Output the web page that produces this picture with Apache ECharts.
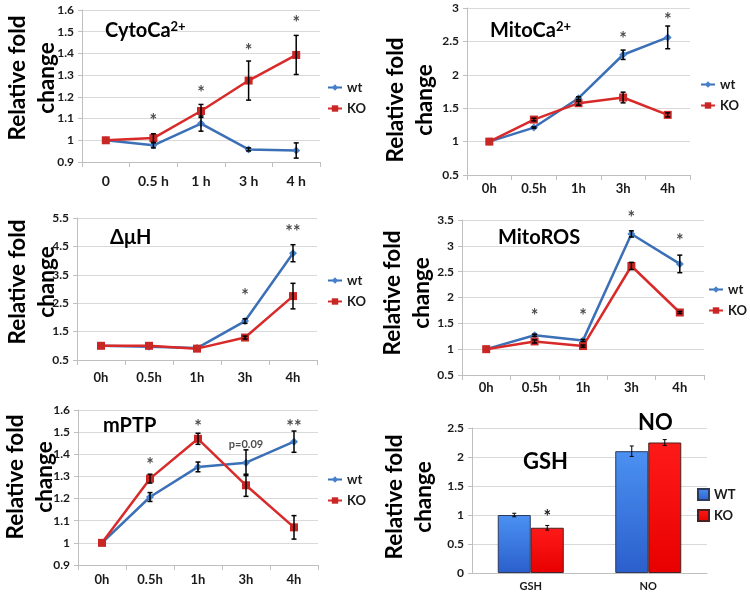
<!DOCTYPE html>
<html>
<head>
<meta charset="utf-8">
<script src="https://cdn.jsdelivr.net/npm/echarts@6/dist/echarts.min.js"></script>
<style>
html, body { margin: 0; padding: 0; background: #fff; }
#wrap { position: relative; width: 750px; height: 593px; overflow: hidden; }
.p { position: absolute; left: 0; top: 0; width: 750px; height: 593px; }
</style>
</head>
<body>
<div id="wrap">
  <div class="p" id="c1"></div>
  <div class="p" id="c2"></div>
  <div class="p" id="c3"></div>
  <div class="p" id="c4"></div>
  <div class="p" id="c5"></div>
  <div class="p" id="c6"></div>
</div>
<script>
// time points
var hoursFirst = ['0', '0.5 h', '1 h', '3 h', '4 h'];
var hours = ['0h', '0.5h', '1h', '3h', '4h'];

// CytoCa2+
var cytoWt = [1.0, 0.977, 1.077, 0.958, 0.953];
var cytoWtErr = [0, 0.012, 0.035, 0.007, 0.035];
var cytoKo = [1.0, 1.01, 1.135, 1.275, 1.393];
var cytoKoErr = [0, 0.02, 0.03, 0.09, 0.09];
var cytoNoteIdx = [1, 2, 3, 4];
var cytoNoteY = [1.107, 1.236, 1.43, 1.558];
var cytoNoteText = ['*', '*', '*', '*'];

// MitoCa2+
var mitoCaWt = [1.0, 1.21, 1.65, 2.3, 2.56];
var mitoCaWtErr = [0, 0.01, 0.02, 0.07, 0.17];
var mitoCaKo = [1.0, 1.33, 1.575, 1.66, 1.4];
var mitoCaKoErr = [0, 0.02, 0.03, 0.08, 0.03];
var mitoCaNoteIdx = [3, 4];
var mitoCaNoteY = [2.6, 2.88];
var mitoCaNoteText = ['*', '*'];

// delta mu H
var dmhWt = [1.0, 0.97, 0.92, 1.87, 4.26];
var dmhWtErr = [0, 0, 0, 0.08, 0.3];
var dmhKo = [1.0, 1.0, 0.9, 1.29, 2.75];
var dmhKoErr = [0, 0, 0, 0.05, 0.45];
var dmhNoteIdx = [3, 4];
var dmhNoteY = [2.9, 5.15];
var dmhNoteText = ['*', '**'];

// MitoROS
var rosWt = [1.0, 1.27, 1.17, 3.23, 2.65];
var rosWtErr = [0, 0.02, 0.02, 0.06, 0.17];
var rosKo = [1.0, 1.15, 1.06, 2.61, 1.71];
var rosKoErr = [0, 0.03, 0.02, 0.07, 0.02];
var rosNoteIdx = [1, 2, 3, 4];
var rosNoteY = [1.72, 1.72, 3.62, 3.17];
var rosNoteText = ['*', '*', '*', '*'];

// mPTP
var ptpWt = [1.0, 1.207, 1.343, 1.362, 1.457];
var ptpWtErr = [0, 0.02, 0.022, 0.058, 0.048];
var ptpKo = [1.0, 1.29, 1.47, 1.26, 1.07];
var ptpKoErr = [0, 0.02, 0.025, 0.05, 0.053];
var ptpNoteIdx = [1, 2, 3, 4];
var ptpNoteY = [1.369, 1.541, 1.45, 1.541];
var ptpNoteText = ['*', '*', 'p=0.09', '**'];

// GSH / NO bars
var barCats = ['GSH', 'NO'];
var barWt = [1.0, 2.1];
var barWtErr = [0.03, 0.09];
var barKo = [0.78, 2.25];
var barKoErr = [0.04, 0.05];
var barKoStar = ['*', ''];

var FONT = 'Lato, "Open Sans", sans-serif';
var BLUE = '#3b6fb6';
var RED = '#d92a2a';
var TXT = '#1a1a1a';
var Y_NAME = 'Relative fold\nchange';

function errBars(offset, cap, lw) {
    return function (params, api) {
        var e = api.value(2);
        if (!e) return null;
        var hi = api.coord([api.value(0), api.value(1) + e]);
        var lo = api.coord([api.value(0), api.value(1) - e]);
        var x = hi[0] + offset;
        var st = { stroke: '#000', lineWidth: lw };
        return {
            type: 'group',
            children: [
                { type: 'line', shape: { x1: x, y1: hi[1], x2: x, y2: lo[1] }, style: st },
                { type: 'line', shape: { x1: x - cap, y1: hi[1], x2: x + cap, y2: hi[1] }, style: st },
                { type: 'line', shape: { x1: x - cap, y1: lo[1], x2: x + cap, y2: lo[1] }, style: st }
            ]
        };
    };
}

function triples(vals, errs) {
    return vals.map(function (v, i) { return [i, v, errs[i]]; });
}

// rotated y-axis title, centred on (x, y)
function yTitle(x, y) {
    return {
        type: 'text', x: x, y: y, rotation: Math.PI / 2,
        style: {
            text: Y_NAME, align: 'center', verticalAlign: 'middle', lineHeight: 29,
            fontFamily: FONT, fontWeight: 'bold', fontSize: 22.5, fill: '#000'
        }
    };
}

function yAxisOpt(min, max, step) {
    return {
        type: 'value', min: min, max: max, interval: step,
        axisLine: { show: true, lineStyle: { color: '#bfbfbf' } },
        axisTick: { show: true, length: 4, lineStyle: { color: '#bfbfbf' } },
        axisLabel: { fontFamily: FONT, fontWeight: 'bold', fontSize: 12, color: TXT, margin: 8 },
        splitLine: { lineStyle: { color: '#d9d9d9' } }
    };
}

function linePanel(id, p) {
    var chart = echarts.init(document.getElementById(id));
    chart.setOption({
        animation: false,
        title: {
            text: p.title, left: p.titlePos[0], top: p.titlePos[1], padding: 0, textAlign: 'left',
            textStyle: {
                fontFamily: FONT, fontWeight: 'bold', fontSize: 20, color: '#000',
                rich: {
                    a: { fontFamily: FONT, fontWeight: 'bold', fontSize: 20, color: '#000' },
                    s: { fontFamily: FONT, fontWeight: 'bold', fontSize: 13, color: '#000', padding: [0, 0, 9, 0] }
                }
            }
        },
        graphic: [yTitle(p.namePos[0], p.namePos[1])],
        grid: { left: p.grid[0], top: p.grid[1], width: p.grid[2], height: p.grid[3], outerBoundsMode: 'none' },
        legend: {
            data: ['wt', 'KO'], orient: 'vertical', left: p.legendPos[0], top: p.legendPos[1],
            itemWidth: 14, itemHeight: 8, itemGap: 8,
            textStyle: { fontFamily: FONT, fontWeight: 'bold', fontSize: 13, color: TXT }
        },
        xAxis: {
            type: 'category', data: p.cats, boundaryGap: true,
            axisLine: { lineStyle: { color: '#bfbfbf' } },
            axisTick: { show: true, length: 5, lineStyle: { color: '#bfbfbf' } },
            axisLabel: { fontFamily: FONT, fontWeight: 'bold', fontSize: p.xFont || 13, color: TXT, margin: p.xMargin }
        },
        yAxis: yAxisOpt(p.yMin, p.yMax, p.yStep),
        series: [
            {
                name: 'wt', type: 'line', data: p.wt, symbol: 'diamond', symbolSize: 8,
                lineStyle: { width: 2.5, color: BLUE }, itemStyle: { color: '#4682cc' }, z: 3
            },
            {
                name: 'KO', type: 'line', data: p.ko, symbol: 'rect', symbolSize: 8,
                lineStyle: { width: 2.5, color: RED }, itemStyle: { color: '#c92626' }, z: 4
            },
            {
                type: 'custom', renderItem: errBars(0, 2.5, 1.5), data: triples(p.wt, p.wtErr), z: 5,
                encode: { x: 0, y: 1 }
            },
            {
                type: 'custom', renderItem: errBars(0, 2.5, 1.5), data: triples(p.ko, p.koErr), z: 5,
                encode: { x: 0, y: 1 }
            },
            {
                type: 'scatter', symbolSize: 0, clip: false, z: 6,
                data: p.noteIdx.map(function (ix, k) { return [ix, p.noteY[k], p.noteText[k]]; }),
                label: {
                    show: true, position: 'inside', offset: [0, 4],
                    formatter: function (d) {
                        var t = d.value[2];
                        return t.length > 2 ? '{s|' + t + '}' : t;
                    },
                    fontFamily: FONT, fontWeight: 'bold', fontSize: 18, color: TXT,
                    rich: { s: { fontFamily: FONT, fontWeight: 'bold', fontSize: 11, color: TXT, padding: [0, 0, 6, 0] } }
                }
            }
        ]
    });
    return chart;
}

linePanel('c1', {
    cats: hoursFirst, xFont: 14, xMargin: 12,
    wt: cytoWt, wtErr: cytoWtErr, ko: cytoKo, koErr: cytoKoErr,
    noteIdx: cytoNoteIdx, noteY: cytoNoteY, noteText: cytoNoteText,
    yMin: 0.9, yMax: 1.6, yStep: 0.1, namePos: [32, 78],
    grid: [82, 10, 238, 152], legendPos: [322, 76],
    title: '{a|CytoCa}{s|2+}', titlePos: [105, 20]
});
linePanel('c2', {
    cats: hours, xMargin: 7,
    wt: mitoCaWt, wtErr: mitoCaWtErr, ko: mitoCaKo, koErr: mitoCaKoErr,
    noteIdx: mitoCaNoteIdx, noteY: mitoCaNoteY, noteText: mitoCaNoteText,
    yMin: 0.5, yMax: 3, yStep: 0.5, namePos: [410, 100],
    grid: [467, 8, 223, 167], legendPos: [695, 73],
    title: '{a|MitoCa}{s|2+}', titlePos: [490, 20]
});
linePanel('c3', {
    cats: hours, xMargin: 11,
    wt: dmhWt, wtErr: dmhWtErr, ko: dmhKo, koErr: dmhKoErr,
    noteIdx: dmhNoteIdx, noteY: dmhNoteY, noteText: dmhNoteText,
    yMin: 0.5, yMax: 5.5, yStep: 1, namePos: [32, 282],
    grid: [77, 218, 240, 142], legendPos: [322, 269],
    title: '{a|ΔμH}', titlePos: [110, 228]
});
linePanel('c4', {
    cats: hours, xMargin: 6,
    wt: rosWt, wtErr: rosWtErr, ko: rosKo, koErr: rosKoErr,
    noteIdx: rosNoteIdx, noteY: rosNoteY, noteText: rosNoteText,
    yMin: 0.5, yMax: 3.5, yStep: 0.5, namePos: [407, 293],
    grid: [462, 220, 242, 155], legendPos: [703, 278],
    title: '{a|MitoROS}', titlePos: [498, 228]
});
linePanel('c5', {
    cats: hours, xMargin: 8,
    wt: ptpWt, wtErr: ptpWtErr, ko: ptpKo, koErr: ptpKoErr,
    noteIdx: ptpNoteIdx, noteY: ptpNoteY, noteText: ptpNoteText,
    yMin: 0.9, yMax: 1.6, yStep: 0.1, namePos: [30, 477],
    grid: [78, 410, 240, 155], legendPos: [322, 468],
    title: '{a|mPTP}', titlePos: [103, 416]
});

// bar panel
var BAR_W = 33;
var bars = echarts.init(document.getElementById('c6'));
bars.setOption({
    animation: false,
    title: [
        { text: 'GSH', left: 523, top: 451, padding: 0, textAlign: 'left', textStyle: { fontFamily: FONT, fontWeight: 'bold', fontSize: 22, color: '#000' } },
        { text: 'NO', left: 638, top: 412, padding: 0, textAlign: 'left', textStyle: { fontFamily: FONT, fontWeight: 'bold', fontSize: 22, color: '#000' } }
    ],
    graphic: [yTitle(409, 497)],
    grid: { left: 472, top: 428, width: 235, height: 145, outerBoundsMode: 'none' },
    legend: {
        data: ['WT', 'KO'], orient: 'vertical', left: 692, top: 483, icon: 'rect',
        itemWidth: 11, itemHeight: 11, itemGap: 8,
        textStyle: { fontFamily: FONT, fontWeight: 'bold', fontSize: 13, color: TXT }
    },
    xAxis: {
        type: 'category', data: barCats,
        axisLine: { lineStyle: { color: '#bfbfbf' } },
        axisTick: { show: false },
        axisLabel: { fontFamily: FONT, fontWeight: 'bold', fontSize: 11, color: TXT, margin: 8 }
    },
    yAxis: yAxisOpt(0, 2.5, 0.5),
    series: [
        {
            name: 'WT', type: 'bar', data: barWt, barWidth: BAR_W, barGap: '0%',
            itemStyle: {
                borderColor: '#2e3a5c', borderWidth: 1,
                color: new echarts.graphic.LinearGradient(0, 0, 0, 1, [
                    { offset: 0, color: '#4b91f2' }, { offset: 1, color: '#2b5fcc' }
                ])
            }
        },
        {
            name: 'KO', type: 'bar', barWidth: BAR_W,
            data: barKo.map(function (v, i) {
                return {
                    value: v,
                    label: {
                        show: !!barKoStar[i], position: 'top', distance: 2, formatter: barKoStar[i],
                        fontFamily: FONT, fontWeight: 'bold', fontSize: 18, color: TXT
                    }
                };
            }),
            itemStyle: {
                borderColor: '#4a2020', borderWidth: 1,
                color: new echarts.graphic.LinearGradient(0, 0, 0, 1, [
                    { offset: 0, color: '#ff1a1a' }, { offset: 1, color: '#e80000' }
                ])
            }
        },
        {
            type: 'custom', renderItem: errBars(-BAR_W / 2, 2, 1), data: triples(barWt, barWtErr), z: 5,
            encode: { x: 0, y: 1 }
        },
        {
            type: 'custom', renderItem: errBars(BAR_W / 2, 2, 1), data: triples(barKo, barKoErr), z: 5,
            encode: { x: 0, y: 1 }
        }
    ]
});
</script>
</body>
</html>
